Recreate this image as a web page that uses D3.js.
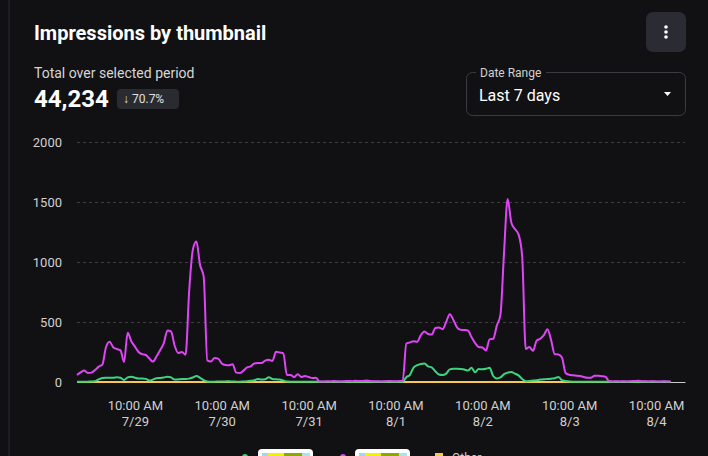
<!DOCTYPE html>
<html>
<head>
<meta charset="utf-8">
<script src="https://cdn.jsdelivr.net/npm/d3@7"></script>
<style>
  html, body { margin: 0; padding: 0; background: #111114; overflow: hidden; }
  svg { display: block; font-family: Roboto, "Noto Sans", sans-serif; }
</style>
</head>
<body>
<script>
// hourly series, starting 7/28 18:00
let startTime = new Date(2024, 6, 28, 18)

let purpleValues = [
  58, 80, 95, 75, 78, 100, 128, 145, 290, 335,
  290, 275, 265, 167, 410, 340, 295, 250, 232, 225,
  195, 170, 215, 267, 325, 430, 420, 300, 242, 250,
  228, 760, 1100, 1170, 975, 880, 180, 170, 200, 195,
  155, 142, 140, 148, 78, 75, 95, 122, 130, 155,
  158, 158, 178, 185, 175, 253, 245, 240, 58, 58,
  40, 65, 42, 50, 42, 33, 35, 5, 4, 6,
  5, 8, 6, 5, 7, 9, 6, 10, 8, 9,
  12, 8, 6, 7, 5, 6, 8, 7, 6, 8,
  10, 320, 330, 340, 335, 390, 420, 400, 395, 450,
  455, 440, 500, 565, 517, 455, 435, 433, 430, 375,
  325, 292, 288, 262, 355, 360, 470, 560, 1080, 1525,
  1330, 1275, 1230, 1050, 275, 292, 260, 345, 360, 390,
  440, 350, 232, 230, 205, 75, 60, 56, 53, 50,
  42, 36, 36, 52, 52, 48, 44, 8, 5, 6,
  5, 6, 5, 7, 8, 10, 7, 6, 5, 6,
  5, 4, 6, 5, 4
]

let greenValues = [
  3, 3, 2, 3, 4, 6, 22, 33, 36, 36,
  36, 40, 35, 17, 38, 44, 36, 30, 30, 26,
  12, 20, 32, 34, 38, 44, 38, 20, 22, 25,
  25, 28, 38, 50, 35, 15, 5, 3, 3, 4,
  4, 5, 6, 4, 3, 2, 4, 6, 10, 15,
  26, 20, 22, 40, 25, 22, 20, 12, 4, 3,
  3, 2, 3, 3, 2, 3, 3, 2, 3, 3,
  2, 3, 3, 2, 3, 3, 2, 3, 3, 2,
  3, 3, 2, 3, 3, 2, 3, 3, 2, 3,
  3, 40, 60, 120, 140, 150, 155, 130, 122, 90,
  62, 58, 70, 105, 110, 110, 108, 104, 95, 118,
  82, 108, 106, 110, 118, 50, 30, 38, 65, 78,
  83, 70, 55, 25, 6, 8, 12, 15, 20, 22,
  25, 28, 32, 42, 15, 8, 5, 3, 3, 3,
  3, 2, 3, 3, 2, 3, 3, 2, 3, 3,
  2, 3, 3, 2, 3, 3, 2, 3, 3, 2,
  3, 3, 2, 3, 3
]

let otherValues = [
  0, 0, 0, 0, 0, 0, 0, 0, 0, 0,
  0, 0, 0, 0, 0, 0, 0, 0, 0, 0,
  0, 0, 0, 0, 0, 0, 0, 0, 0, 0,
  0, 0, 0, 0, 0, 0, 0, 0, 0, 0,
  0, 0, 0, 0, 0, 0, 0, 0, 0, 0,
  0, 0, 0, 0, 0, 0, 0, 0, 0, 0,
  0, 0, 0, 0, 0, 0, 0, 0, 0, 0,
  0, 0, 0, 0, 0, 0, 0, 0, 0, 0,
  0, 0, 0, 0, 0, 0, 0, 0, 0, 0,
  0, 0, 0, 0, 0, 0, 0, 0, 0, 0,
  0, 0, 0, 0, 0, 0, 0, 0, 0, 0,
  0, 0, 0, 0, 0, 0, 0, 0, 0, 0,
  0, 0, 0, 0, 0, 0, 0, 0, 0, 0,
  0, 0, 0, 0, 0, 0, 0, 0, 0, 0,
  0, 0, 0, 0, 0, 0, 0, 0, 0, 0,
  0, 0, 0, 0, 0, 0, 0, 0, 0, 0,
  0, 0, 0, 0, 0
]

let yTicks = [0, 500, 1000, 1500, 2000]
let tickDays = ['7/29', '7/30', '7/31', '8/1', '8/2', '8/3', '8/4']

width = 708
height = 456
margin = ({
    'left': 77,
    'right': 23,
    'top': 142,
    'bottom': 74
  })

let svg = d3.select('body')
.append('svg')
.attr('width', width)
.attr('height', height)

// card edge
svg.append('line')
    .attr('x1', 9).attr('x2', 9)
    .attr('y1', 0).attr('y2', height)
    .attr('stroke', '#2c2c30')

// header
svg.append('text')
    .attr('x', 34).attr('y', 40)
    .attr('fill', '#ffffff')
    .attr('font-size', 20)
    .attr('font-weight', 700)
    .text('Impressions by thumbnail')

svg.append('rect')
    .attr('x', 646).attr('y', 12)
    .attr('width', 40).attr('height', 40)
    .attr('rx', 7)
    .attr('fill', '#2b2b33')
svg.selectAll('.dot')
    .data([27, 32, 37])
    .join('circle')
        .attr('cx', 666)
        .attr('cy', d => d)
        .attr('r', 1.8)
        .attr('fill', '#ffffff')

svg.append('text')
    .attr('x', 34).attr('y', 78)
    .attr('fill', '#d6d6d6')
    .attr('font-size', 14)
    .text('Total over selected period')

svg.append('text')
    .attr('x', 34).attr('y', 107)
    .attr('fill', '#ffffff')
    .attr('font-size', 24)
    .attr('font-weight', 700)
    .text('44,234')

svg.append('rect')
    .attr('x', 117).attr('y', 89)
    .attr('width', 62).attr('height', 20)
    .attr('rx', 4)
    .attr('fill', '#2a2a31')
svg.append('text')
    .attr('x', 123).attr('y', 103)
    .attr('fill', '#e0e0e0')
    .attr('font-size', 12)
    .text('\u2193 70.7%')

// date range select
svg.append('rect')
    .attr('x', 466.5).attr('y', 72.5)
    .attr('width', 219).attr('height', 43)
    .attr('rx', 6)
    .attr('fill', 'none')
    .attr('stroke', '#3a3a40')
svg.append('rect')
    .attr('x', 476).attr('y', 68)
    .attr('width', 70).attr('height', 9)
    .attr('fill', '#111114')
svg.append('text')
    .attr('x', 480).attr('y', 77)
    .attr('fill', '#d0d0d0')
    .attr('font-size', 12)
    .text('Date Range')
svg.append('text')
    .attr('x', 479).attr('y', 101)
    .attr('fill', '#ffffff')
    .attr('font-size', 16)
    .text('Last 7 days')
svg.append('path')
    .attr('d', 'M664,92 L671,92 L667.5,96 Z')
    .attr('fill', '#ffffff')

// chart
let data = purpleValues.map((v, i) => ({
    time: d3.timeHour.offset(startTime, i),
    purple: v,
    green: greenValues[i],
    other: otherValues[i]
  }))

let x = d3.scaleTime()
.domain([startTime, d3.timeDay.offset(startTime, 7)])
.range([margin.left, width - margin.right])

let y = d3.scaleLinear()
.domain([0, 2000])
.range([height - margin.bottom, margin.top])

let grid = svg.append('g')
grid.selectAll('line')
    .data(yTicks.filter(d => d > 0))
    .join('line')
        .attr('x1', margin.left)
        .attr('x2', width - margin.right)
        .attr('y1', d => y(d) + 0.5)
        .attr('y2', d => y(d) + 0.5)
        .attr('stroke', '#3c3c42')
        .attr('stroke-dasharray', '3,3')

let yAxis = d3.axisLeft(y)
    .tickValues(yTicks)
    .tickFormat(d3.format('d'))
    .tickSize(0)
    .tickPadding(15)

svg.append('g')
    .attr('transform', `translate(${margin.left})`)
    .call(yAxis)
    .call(g => g.select('.domain').remove())
    .call(g => g.selectAll('text')
        .attr('fill', '#d0d0d0')
        .attr('font-size', 13)
        .attr('font-family', 'Roboto, sans-serif'))

let xTickValues = tickDays.map((d, i) => d3.timeHour.offset(startTime, 16 + 24 * i))

let xAxis = d3.axisBottom(x)
    .tickValues(xTickValues)
    .tickSize(0)
    .tickFormat('')

svg.append('g')
    .attr('transform', `translate(0, ${height - margin.bottom})`)
    .call(xAxis)
    .call(g => g.select('.domain').attr('stroke', '#c8c8c8'))
    .call(g => g.selectAll('.tick').each(function(d, i) {
        let t = d3.select(this).append('text')
            .attr('fill', '#d0d0d0')
            .attr('font-size', 13)
            .attr('font-family', 'Roboto, sans-serif')
            .attr('text-anchor', 'middle')
        t.append('tspan').attr('x', 0).attr('y', 28).text('10:00 AM')
        t.append('tspan').attr('x', 0).attr('y', 44).text(tickDays[i])
    }))

let series = [
    { key: 'other', color: '#f6c850' },
    { key: 'green', color: '#3ed47f' },
    { key: 'purple', color: '#df45f5' }
  ]

series.forEach(s => {
    let line = d3.line()
        .x(d => x(d.time))
        .y(d => y(d[s.key]))
        .curve(d3.curveMonotoneX)
    svg.append('path')
        .datum(data)
        .attr('fill', 'none')
        .attr('stroke', s.color)
        .attr('stroke-width', 2)
        .attr('stroke-linejoin', 'round')
        .attr('d', line)
  })

// legend (thumbnails cut off at bottom)
let legend = svg.append('g')

legend.append('circle').attr('cx', 245).attr('cy', 457).attr('r', 3).attr('fill', '#3ed47f')
legend.append('circle').attr('cx', 343).attr('cy', 457).attr('r', 3).attr('fill', '#df45f5')
legend.append('rect').attr('x', 435).attr('y', 453).attr('width', 8).attr('height', 8).attr('fill', '#f6c850')
legend.append('text')
    .attr('x', 452).attr('y', 462)
    .attr('fill', '#d0d0d0')
    .attr('font-size', 12)
    .text('Other')

let thumbs = [258, 355]
thumbs.forEach(tx => {
    legend.append('rect')
        .attr('x', tx).attr('y', 449)
        .attr('width', 55).attr('height', 30)
        .attr('rx', 4)
        .attr('fill', '#ffffff')
    let stripes = [
        { dx: 4, w: 6, c: '#9fd8ef' },
        { dx: 10, w: 16, c: '#f2f200' },
        { dx: 26, w: 18, c: '#8fa800' },
        { dx: 44, w: 8, c: '#a8e4f4' }
      ]
    stripes.forEach(s => {
        legend.append('rect')
            .attr('x', tx + s.dx).attr('y', 453)
            .attr('width', s.w).attr('height', 20)
            .attr('fill', s.c)
      })
  })
</script>
</body>
</html>
